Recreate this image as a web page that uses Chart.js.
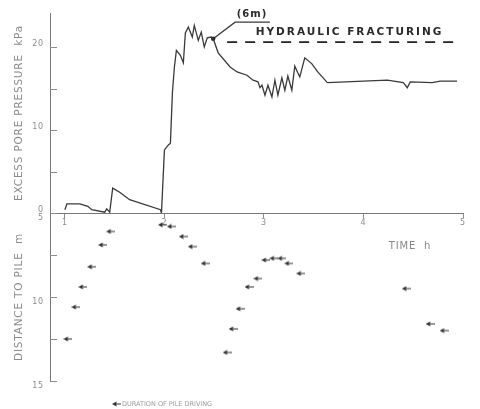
<!DOCTYPE html>
<html>
<head>
<meta charset="utf-8">
<script src="https://cdn.jsdelivr.net/npm/chart.js@4"></script>
<style>
  html, body { margin: 0; padding: 0; background: #fff; }
</style>
</head>
<body>
<canvas id="chart" width="480" height="409"></canvas>
<script>
// ---- data ----
// excess pore pressure (kPa) against time (h)
const pressureTime = [
  1.00, 1.02, 1.15, 1.23, 1.27,
  1.40, 1.42, 1.45, 1.48, 1.55,
  1.65, 1.96, 1.97, 2.00, 2.04,
  2.06, 2.08, 2.10, 2.12, 2.16,
  2.19, 2.21, 2.24, 2.28, 2.30,
  2.34, 2.37, 2.40, 2.43, 2.47,
  2.49, 2.54, 2.66, 2.73, 2.83,
  2.89, 2.94, 2.96, 2.98, 3.01,
  3.04, 3.08, 3.11, 3.14, 3.18,
  3.21, 3.24, 3.28, 3.31, 3.34,
  3.36, 3.41, 3.48, 3.54, 3.63,
  3.64, 4.24, 4.40, 4.44, 4.47,
  4.69, 4.77, 4.94
];
const pressureValue = [
  0.4, 1.1, 1.1, 0.8, 0.4,
  0.1, 0.5, 0.1, 3.0, 2.5,
  1.6, 0.4, 0.0, 7.6, 8.2,
  8.4, 14.5, 17.6, 19.6, 19.0,
  18.1, 21.7, 22.4, 21.2, 22.6,
  20.8, 21.8, 20.0, 21.1, 21.2,
  21.0, 19.3, 17.6, 17.0, 16.6,
  16.0, 15.8, 15.1, 15.4, 14.2,
  15.4, 14.0, 16.0, 14.2, 16.3,
  14.8, 16.5, 14.8, 17.7, 16.9,
  16.4, 18.7, 18.0, 17.0, 15.8,
  15.7, 16.0, 15.7, 15.1, 15.8,
  15.7, 15.9, 15.9
];

// pile driving: time (h) and distance to pile (m)
const pileTime = [
  1.03, 1.11, 1.18, 1.27, 1.38, 1.46,
  1.98, 2.07, 2.19, 2.28, 2.41,
  2.63, 2.69, 2.76, 2.85, 2.94, 3.02, 3.10, 3.18, 3.25, 3.37,
  4.43, 4.67, 4.81
];
const pileDistance = [
  12.5, 10.6, 9.4, 8.2, 6.9, 6.1,
  5.7, 5.8, 6.4, 7.0, 8.0,
  13.3, 11.9, 10.7, 9.4, 8.9, 7.8, 7.7, 7.7, 8.0, 8.6,
  9.5, 11.6, 12.0
];

// hydraulic fracturing level and the (6m) leader
const fracTime = [2.63, 4.92];
const fracLevel = [20.6, 20.6];
const leaderTime = [2.49, 2.71, 3.06];
const leaderLevel = [21.0, 23.0, 23.0];

// axis ticks
const timeTicks = [1, 2, 3, 4, 5];
const pressureTicks = [0, 10, 20];
const pressureMinor = [0, 5, 10, 15, 20];
const distanceTicks = [5, 10, 15];
const distanceMinor = [5, 7.5, 10, 12.5, 15];

const ink = '#3a3a3a';
const grey = '#8c8c8c';

function toPoints(xs, ys) {
    return xs.map((x, i) => ({x: x, y: ys[i]}));
}

// small left pointing arrow used for the pile driving markers
function makeArrow() {
    const c = document.createElement('canvas');
    c.width = 9;
    c.height = 6;
    const g = c.getContext('2d');
    g.fillStyle = '#333';
    g.beginPath();
    g.moveTo(0, 3);
    g.lineTo(4.5, 0.5);
    g.lineTo(4.5, 5.5);
    g.closePath();
    g.fill();
    g.fillRect(4.5, 2.5, 4.5, 1);
    return c;
}
const arrow = makeArrow();

// spaced lettering for the axis titles, like the original drawing
const spacing = {
    id: 'spacing',
    beforeDraw(chart) { chart.ctx.letterSpacing = '0.8px'; },
    beforeDatasetsDraw(chart) { chart.ctx.letterSpacing = '0px'; }
};

// inner tick marks, annotations and the little key at the bottom
const extras = {
    id: 'extras',
    afterDraw(chart) {
        const ctx = chart.ctx;
        const x = chart.scales.x;
        const yP = chart.scales.yP;
        const yD = chart.scales.yD;
        const left = chart.chartArea.left;

        ctx.save();
        ctx.strokeStyle = grey;
        ctx.lineWidth = 1;
        ctx.beginPath();
        pressureMinor.forEach(v => {
            const py = Math.round(yP.getPixelForValue(v)) + 0.5;
            ctx.moveTo(left, py);
            ctx.lineTo(left + 7, py);
        });
        distanceMinor.forEach(v => {
            const py = Math.round(yD.getPixelForValue(v)) + 0.5;
            ctx.moveTo(left, py);
            ctx.lineTo(left + 7, py);
        });
        ctx.stroke();

        // annotations
        ctx.fillStyle = '#2a2a2a';
        ctx.textBaseline = 'middle';
        ctx.textAlign = 'center';
        ctx.font = 'bold 10px "DejaVu Sans"';
        ctx.letterSpacing = '1px';
        ctx.fillText('(6m)', x.getPixelForValue(2.88), yP.getPixelForValue(23.9));
        ctx.font = 'bold 10.5px "DejaVu Sans"';
        ctx.letterSpacing = '2px';
        ctx.fillText('HYDRAULIC FRACTURING', x.getPixelForValue(3.86), yP.getPixelForValue(21.8));

        // key
        ctx.letterSpacing = '0px';
        ctx.drawImage(arrow, 112, 401);
        ctx.fillStyle = '#9a9a9a';
        ctx.textAlign = 'left';
        ctx.font = '6.5px "DejaVu Sans"';
        ctx.fillText('DURATION OF PILE DRIVING', 122, 404);
        ctx.restore();
    }
};

new Chart(document.getElementById('chart'), {
    type: 'scatter',
    data: {
        datasets: [
            {
                label: 'Excess pore pressure',
                data: toPoints(pressureTime, pressureValue),
                yAxisID: 'yP',
                showLine: true,
                borderColor: ink,
                borderWidth: 1.3,
                pointRadius: 0,
                tension: 0
            },
            {
                label: 'Hydraulic fracturing',
                data: toPoints(fracTime, fracLevel),
                yAxisID: 'yP',
                showLine: true,
                borderColor: '#222',
                borderWidth: 1.8,
                borderDash: [10, 8],
                pointRadius: 0
            },
            {
                label: '(6m)',
                data: toPoints(leaderTime, leaderLevel),
                yAxisID: 'yP',
                showLine: true,
                borderColor: ink,
                borderWidth: 1.3,
                pointRadius: [2.2, 0, 0],
                pointBackgroundColor: '#222',
                pointBorderWidth: 0
            },
            {
                label: 'Duration of pile driving',
                data: toPoints(pileTime, pileDistance),
                yAxisID: 'yD',
                pointStyle: arrow,
                pointRadius: 4
            }
        ]
    },
    options: {
        responsive: false,
        animation: false,
        events: [],
        layout: {
            padding: {left: 0, right: 17, top: 13, bottom: 28}
        },
        plugins: {
            legend: {display: false},
            tooltip: {enabled: false}
        },
        scales: {
            x: {
                type: 'linear',
                min: 0.85,
                max: 5.0,
                position: {yP: 0},
                afterBuildTicks: s => { s.ticks = timeTicks.map(v => ({value: v})); },
                grid: {
                    drawOnChartArea: false,
                    tickLength: 4,
                    color: grey
                },
                border: {color: '#777', width: 1},
                ticks: {
                    color: grey,
                    padding: 1,
                    font: {family: 'DejaVu Sans', size: 8}
                },
                title: {
                    display: true,
                    text: 'TIME  h        ',
                    align: 'end',
                    color: '#888',
                    padding: {top: 12, bottom: 0},
                    font: {family: 'DejaVu Sans', size: 10}
                }
            },
            yD: {
                type: 'linear',
                position: 'left',
                stack: 'panels',
                stackWeight: 168,
                reverse: true,
                min: 5,
                max: 15,
                afterBuildTicks: s => { s.ticks = distanceTicks.map(v => ({value: v})); },
                afterFit: s => { s.width = 50; },
                grid: {display: false, drawTicks: false},
                border: {color: '#777', width: 1},
                ticks: {
                    color: grey,
                    padding: 6,
                    labelOffset: 5,
                    font: {family: 'DejaVu Sans', size: 8}
                },
                title: {
                    display: true,
                    text: 'DISTANCE TO PILE  m',
                    color: '#8a8a8a',
                    padding: {top: 13, bottom: 0},
                    font: {family: 'DejaVu Sans', size: 10.5}
                }
            },
            yP: {
                type: 'linear',
                position: 'left',
                stack: 'panels',
                stackWeight: 200,
                min: 0,
                max: 24.1,
                afterBuildTicks: s => { s.ticks = pressureTicks.map(v => ({value: v})); },
                afterFit: s => { s.width = 50; },
                grid: {display: false, drawTicks: false},
                border: {color: '#777', width: 1},
                ticks: {
                    color: grey,
                    padding: 6,
                    labelOffset: -3,
                    font: {family: 'DejaVu Sans', size: 8}
                },
                title: {
                    display: true,
                    text: 'EXCESS PORE PRESSURE  kPa',
                    color: '#8a8a8a',
                    padding: {top: 13, bottom: 0},
                    font: {family: 'DejaVu Sans', size: 10.5}
                }
            }
        }
    },
    plugins: [spacing, extras]
});
</script>
</body>
</html>
